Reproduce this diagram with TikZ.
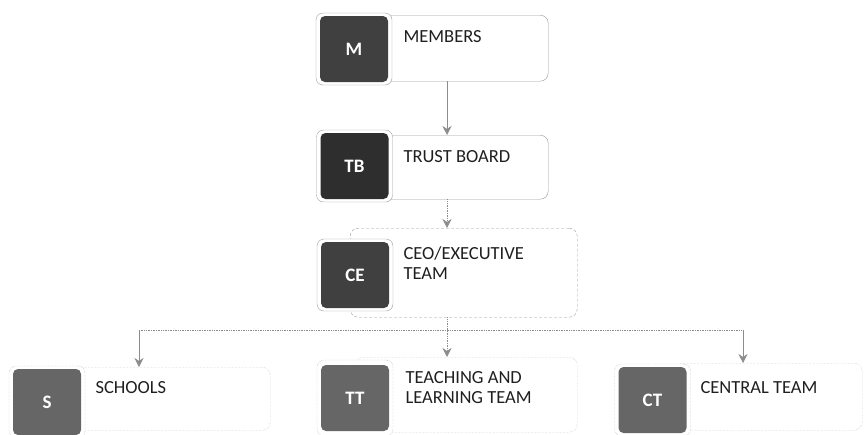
\documentclass[tikz,border=0pt]{standalone}
\usepackage{fontspec}
\setmainfont{Carlito}
\usepackage{tikz}
\usetikzlibrary{arrows.meta}

\begin{document}
\begin{tikzpicture}[x=1pt,y=-1pt,
    frame/.style={draw=gray!75,fill=white,rounded corners=7pt,minimum width=76pt,minimum height=72pt,inner sep=0pt},
    tag/.style={fill=black!75,text=white,rounded corners=5pt,minimum width=68pt,minimum height=66pt,inner sep=0pt,font=\fontsize{19}{22}\selectfont\bfseries},
    lowtag/.style={tag,fill=black!60},
    card/.style={draw=gray!80,rounded corners=8pt,anchor=north west,inner sep=0pt},
    lowcard/.style={card,draw=gray!60,densely dotted},
    caption/.style={anchor=west,align=left,text=black!88,font=\fontsize{18.5}{20}\selectfont},
    wire/.style={draw=gray!90,line width=0.7pt},
    arrow/.style={wire,-{Stealth[length=9pt,width=9pt]}}]
    \useasboundingbox (0,0) rectangle (867,434);
    % cards
    \node[card,minimum width=168pt,minimum height=66pt] (mcard) at (380,15) {};
    \node[card,minimum width=168pt,minimum height=64pt] (tbcard) at (380,135) {};
    \node[card,densely dashed,minimum width=227pt,minimum height=89pt] (cecard) at (350,228) {};
    \node[lowcard,minimum width=222pt,minimum height=75pt] (ttcard) at (355,357) {};
    \node[lowcard,minimum width=200pt,minimum height=63pt] (scard) at (70,367) {};
    \node[lowcard,minimum width=187pt,minimum height=67pt] (ctcard) at (675,363) {};
    % frames and tags
    \node[frame] (mframe) at (354,49) {};
    \node[tag] (m) at (mframe) {M};
    \node[frame] (tbframe) at (354.5,166) {};
    \node[tag,fill=black!82] (tb) at (tbframe) {TB};
    \node[frame] (ceframe) at (355,275) {};
    \node[tag] (ce) at (ceframe) {CE};
    \node[frame,densely dotted,minimum height=76pt] (ttframe) at (355,398) {};
    \node[lowtag] (tt) at (ttframe) {TT};
    \node[frame,densely dotted] (sframe) at (47,402) {};
    \node[lowtag] (s) at (sframe) {S};
    \node[frame,densely dotted] (ctframe) at (652.5,400) {};
    \node[lowtag] (ct) at (ctframe) {CT};
    % captions
    \node[caption] (mtext) at (400,37) {MEMBERS};
    \node[caption] (tbtext) at (400,157) {TRUST BOARD};
    \node[caption] (cetext) at (400,263) {CEO/EXECUTIVE\\TEAM};
    \node[caption] (tttext) at (402,388) {TEACHING AND\\LEARNING TEAM};
    \node[caption] (stext) at (92,388) {SCHOOLS};
    \node[caption] (cttext) at (697,388) {CENTRAL TEAM};
    % connectors
    \coordinate (spine) at (447,0);
    \coordinate (sdrop) at (139,330);
    \coordinate (cdrop) at (743,330);
    \draw[arrow] (mcard.south -| spine) -- (tbcard.north -| spine);
    \draw[arrow,densely dotted] (tbcard.south -| spine) -- (cecard.north -| spine);
    \draw[arrow,densely dotted] (cecard.south -| spine) -- (ttcard.north -| spine);
    \draw[wire,densely dotted] (sdrop) -- (cdrop);
    \draw[arrow] (sdrop) -- (sdrop |- scard.north);
    \draw[arrow] (cdrop) -- (cdrop |- ctcard.north);
\end{tikzpicture}
\end{document}
